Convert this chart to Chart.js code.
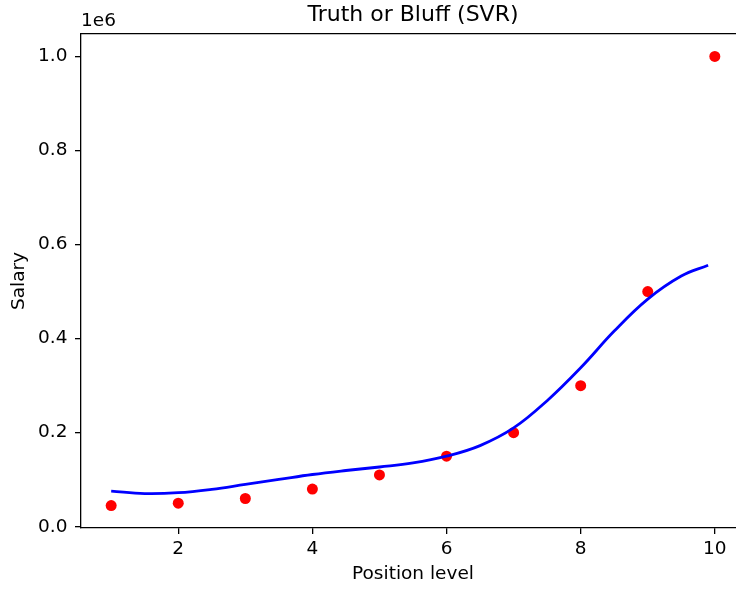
<!DOCTYPE html>
<html>
<head>
<meta charset="utf-8">
<script src="https://cdn.jsdelivr.net/npm/chart.js@4/dist/chart.umd.min.js"></script>
<style>
  html, body { margin: 0; background: #fff; overflow: hidden; }
  canvas { display: block; }
</style>
</head>
<body>
<canvas id="svr" width="745" height="589"></canvas>
<script>
// observed data
var positionLevels = [1, 2, 3, 4, 5, 6, 7, 8, 9, 10];
var salaries = [45000, 50000, 60000, 80000, 110000, 150000, 200000, 300000, 500000, 1000000];

// SVR prediction curve
var curveLevels = [1.0, 1.5, 2.0, 2.5, 3.0, 3.5, 4.0, 4.5, 5.0, 5.5, 6.0, 6.5, 7.0, 7.5, 8.0, 8.5, 9.0, 9.5, 9.9];
var curveSalaries = [75700, 70500, 72300, 79500, 90000, 100500, 111000, 119500, 127000, 135500, 150000, 172500, 210000, 268000, 338000, 416000, 484000, 533000, 556000];

var xTicks = [2, 4, 6, 8, 10];
var yTicks = [0, 200000, 400000, 600000, 800000, 1000000];

var font = "'DejaVu Sans', sans-serif";
var labelSize = 18.5;

function toPoints(xs, ys) {
    return xs.map(function (x, i) { return {x: x, y: ys[i]}; });
}

// "1e6" multiplier above the y axis
var offsetText = {
    id: "offsetText",
    afterDraw: function (chart) {
        var ctx = chart.ctx;
        ctx.save();
        ctx.font = labelSize + "px " + font;
        ctx.fillStyle = "#000";
        ctx.textAlign = "left";
        ctx.textBaseline = "middle";
        ctx.fillText("1e6", chart.chartArea.left, 21);
        ctx.restore();
    }
};

var tickGrid = {display: true, drawOnChartArea: false, tickLength: 6, color: "#000", lineWidth: 1.3};
var axisBorder = {display: true, color: "#000", width: 1.3};

var config = {
    type: "scatter",
    data: {
        datasets: [{
            label: "SVR",
            data: toPoints(curveLevels, curveSalaries),
            showLine: true,
            borderColor: "#0000ff",
            borderWidth: 2.8,
            pointRadius: 0,
            tension: 0.4,
            order: 0
        }, {
            label: "Salary",
            data: toPoints(positionLevels, salaries),
            backgroundColor: "#ff0000",
            borderWidth: 0,
            pointRadius: 5.5,
            order: 1
        }]
    },
    options: {
        responsive: false,
        animation: false,
        layout: {padding: 0, autoPadding: false},
        plugins: {
            legend: {display: false},
            tooltip: {enabled: false},
            title: {
                display: true,
                text: "Truth or Bluff (SVR)",
                fullSize: false,
                color: "#000",
                font: {family: font, size: 22, weight: "normal"},
                padding: {top: 2.3, bottom: 5.3}
            }
        },
        scales: {
            x: {
                type: "linear",
                min: 0.55,
                max: 10.45,
                afterBuildTicks: function (scale) {
                    scale.ticks = xTicks.map(function (v) { return {value: v}; });
                },
                afterFit: function (scale) { scale.height = 61; },
                ticks: {color: "#000", font: {family: font, size: labelSize}, padding: 4},
                grid: tickGrid,
                border: axisBorder,
                title: {
                    display: true,
                    text: "Position level",
                    color: "#000",
                    font: {family: font, size: labelSize},
                    padding: {top: 0, bottom: 4}
                }
            },
            xTop: {
                type: "linear",
                position: "top",
                display: true,
                min: 0.55,
                max: 10.45,
                afterFit: function (scale) { scale.height = 0; },
                ticks: {display: false},
                grid: {display: false},
                border: axisBorder
            },
            y: {
                type: "linear",
                min: -2750,
                max: 1047750,
                afterBuildTicks: function (scale) {
                    scale.ticks = yTicks.map(function (v) { return {value: v}; });
                },
                afterFit: function (scale) { scale.width = 81; },
                ticks: {
                    color: "#000",
                    font: {family: font, size: labelSize},
                    padding: 7.5,
                    callback: function (v) { return (v / 1e6).toFixed(1); }
                },
                grid: tickGrid,
                border: axisBorder,
                title: {
                    display: true,
                    text: "Salary",
                    color: "#000",
                    font: {family: font, size: labelSize},
                    padding: {top: 8, bottom: 0}
                }
            }
        }
    },
    plugins: [offsetText]
};

var svrChart = new Chart(document.getElementById("svr"), config);
</script>
</body>
</html>
